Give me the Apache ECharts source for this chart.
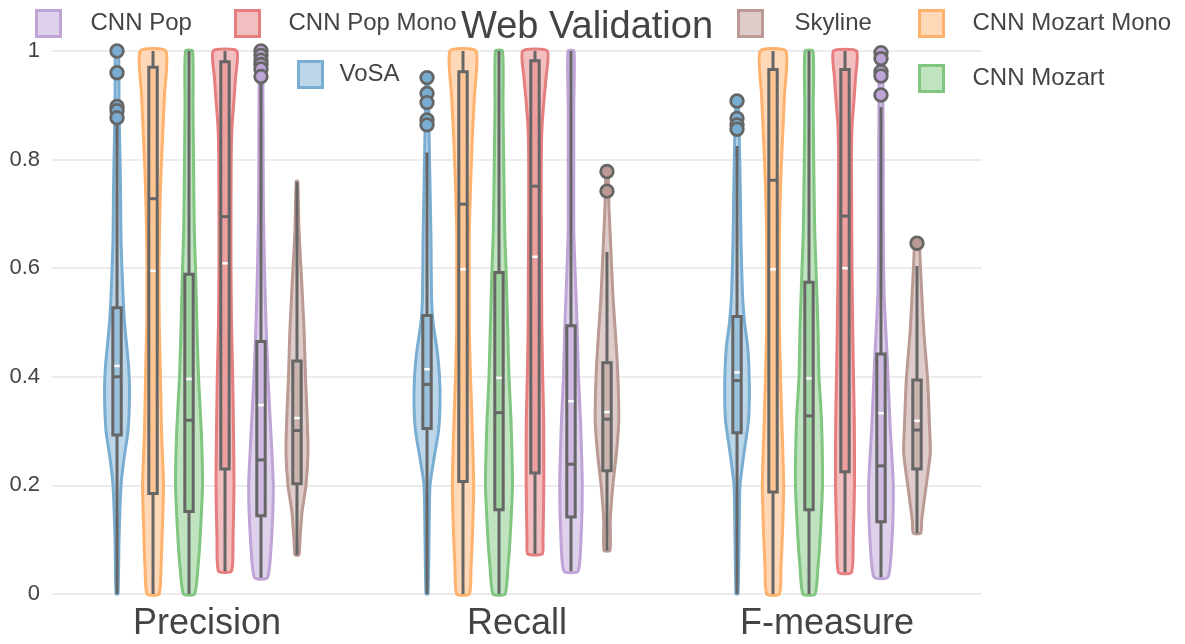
<!DOCTYPE html>
<html>
  <head>
    <meta charset="utf-8" />
    <title>Web Validation</title>
    <script src="https://cdn.jsdelivr.net/npm/echarts@6/dist/echarts.min.js"></script>
    <style>
      body { margin: 0; background: #fff; }
      #chart { width: 1185px; height: 644px; }
    </style>
  </head>
  <body>
    <div id="chart"></div>
    <script type="text/javascript">
      // ---- data ----
      var metrics = ["Precision", "Recall", "F-measure"];
      var methods = ["VoSA", "CNN Mozart Mono", "CNN Mozart", "CNN Pop Mono", "CNN Pop", "Skyline"];

      // box stats per metric: [lower whisker, q1, median, q3, upper whisker]
      var vosaBox = [[0, 0.293, 0.40, 0.527, 0.865], [0, 0.305, 0.386, 0.513, 0.813], [0, 0.297, 0.393, 0.511, 0.825]];
      var mozartMonoBox = [[0, 0.185, 0.728, 0.97, 1], [0, 0.207, 0.718, 0.962, 1], [0, 0.188, 0.762, 0.966, 1]];
      var mozartBox = [[0, 0.152, 0.32, 0.589, 1], [0, 0.155, 0.334, 0.592, 1], [0, 0.155, 0.328, 0.574, 1]];
      var popMonoBox = [[0.042, 0.23, 0.695, 0.98, 1], [0.074, 0.223, 0.751, 0.982, 1], [0.04, 0.225, 0.696, 0.966, 1]];
      var popBox = [[0.03, 0.144, 0.247, 0.465, 0.945], [0.042, 0.142, 0.239, 0.494, 1], [0.031, 0.133, 0.236, 0.442, 0.897]];
      var skylineBox = [[0.072, 0.203, 0.301, 0.429, 0.759], [0.08, 0.227, 0.322, 0.426, 0.63], [0.112, 0.23, 0.302, 0.394, 0.604]];

      // means per metric
      var vosaMean = [0.42, 0.414, 0.408];
      var mozartMonoMean = [0.595, 0.598, 0.598];
      var mozartMean = [0.396, 0.398, 0.397];
      var popMonoMean = [0.609, 0.621, 0.6];
      var popMean = [0.348, 0.355, 0.333];
      var skylineMean = [0.324, 0.335, 0.319];

      // outliers per metric
      var vosaOut = [[1.0, 0.96, 0.898, 0.89, 0.877], [0.951, 0.922, 0.905, 0.873, 0.864], [0.908, 0.876, 0.864, 0.856]];
      var mozartMonoOut = [[], [], []];
      var mozartOut = [[], [], []];
      var popMonoOut = [[], [], []];
      var popOut = [[1.0, 0.992, 0.983, 0.975, 0.967, 0.953], [], [0.997, 0.986, 0.962, 0.954, 0.919]];
      var skylineOut = [[], [0.778, 0.742], [0.646]];

      // violin outline: [value, relative density] (peak around 15)
      var vosaShape = [
        [[0, 2], [0.1, 3], [0.2, 5], [0.25, 8], [0.3, 12], [0.37, 13.5], [0.42, 12.5], [0.5, 8.5], [0.55, 7], [0.65, 5], [0.75, 4.5], [0.85, 3.5], [0.9, 3], [1, 2.5]],
        [[0, 2], [0.1, 3], [0.2, 4], [0.25, 8], [0.3, 12.5], [0.35, 14], [0.4, 13.5], [0.45, 11], [0.5, 7], [0.55, 5.5], [0.65, 5], [0.75, 4], [0.85, 3], [0.951, 2]],
        [[0, 2], [0.1, 3], [0.2, 4], [0.26, 8], [0.32, 12.5], [0.39, 13.3], [0.455, 11.7], [0.5, 8.5], [0.55, 6.5], [0.65, 5], [0.75, 4.2], [0.836, 3.3], [0.908, 2]]
      ];
      var mozartMonoShape = [
        [[0, 7], [0.05, 9], [0.1, 10], [0.2, 11.5], [0.3, 9.5], [0.4, 8.5], [0.5, 7.2], [0.6, 7], [0.67, 7.5], [0.75, 8.5], [0.84, 10.5], [0.92, 12.5], [1, 13.8]],
        [[0, 7.3], [0.05, 9], [0.1, 10.3], [0.2, 11.7], [0.32, 10], [0.4, 8.5], [0.49, 7.3], [0.6, 7.2], [0.67, 7.3], [0.75, 8.5], [0.84, 10.3], [0.92, 12.5], [1, 14]],
        [[0, 7.3], [0.05, 9], [0.1, 10.2], [0.2, 11.7], [0.32, 9.8], [0.4, 8.5], [0.5, 7.3], [0.6, 7.2], [0.67, 7.5], [0.75, 8.5], [0.84, 10.5], [0.92, 12.5], [1, 13.8]]
      ];
      var mozartShape = [
        [[0, 6.5], [0.05, 10], [0.1, 12], [0.2, 14.5], [0.3, 13.3], [0.4, 10.5], [0.49, 9], [0.6, 7.5], [0.67, 6.3], [0.8, 5.5], [0.9, 5], [1, 4.5]],
        [[0, 7], [0.05, 10], [0.1, 12], [0.2, 14.5], [0.32, 13], [0.4, 11], [0.49, 9.7], [0.6, 8], [0.67, 6.7], [0.8, 5.7], [0.9, 5], [1, 4.5]],
        [[0, 7], [0.05, 10], [0.1, 12], [0.2, 14.5], [0.32, 13.5], [0.4, 11], [0.49, 10], [0.6, 8], [0.67, 6.7], [0.8, 5.7], [0.9, 5.2], [1, 5]]
      ];
      var popMonoShape = [
        [[0.042, 7.5], [0.1, 9], [0.2, 10], [0.3, 9.5], [0.4, 8.7], [0.5, 7.5], [0.6, 7], [0.7, 7], [0.8, 7.2], [0.86, 8], [0.91, 10], [0.95, 11.5], [1, 12.8]],
        [[0.074, 8.3], [0.1, 9], [0.2, 9.8], [0.32, 9.7], [0.4, 8.7], [0.5, 7.8], [0.6, 7.6], [0.7, 7.3], [0.8, 7.3], [0.86, 8], [0.91, 10], [0.95, 12], [1, 13.3]],
        [[0.04, 7.5], [0.1, 9.2], [0.2, 10.5], [0.32, 10.3], [0.4, 9.5], [0.49, 8.7], [0.6, 8], [0.67, 7.8], [0.8, 7.5], [0.86, 8], [0.91, 10], [0.95, 11.5], [1, 12.5]]
      ];
      var popShape = [
        [[0.03, 7.5], [0.1, 11.5], [0.2, 13.3], [0.3, 10.8], [0.4, 8], [0.5, 6], [0.6, 4.5], [0.7, 3.5], [0.8, 3.2], [0.9, 3], [1, 2.5]],
        [[0.042, 8], [0.1, 11], [0.2, 12.3], [0.32, 10.5], [0.4, 8.5], [0.49, 7.2], [0.6, 5], [0.67, 3.8], [0.8, 3.8], [0.9, 3.8], [1, 4]],
        [[0.031, 8], [0.1, 12], [0.2, 13.3], [0.315, 10], [0.425, 7.5], [0.548, 4.2], [0.67, 3.3], [0.8, 3.3], [0.9, 3], [1, 2.5]]
      ];
      var skylineShape = [
        [[0.072, 3], [0.1, 4], [0.15, 6], [0.2, 10], [0.26, 12], [0.32, 11.3], [0.4, 9.5], [0.49, 8], [0.6, 5], [0.67, 3], [0.76, 1.5]],
        [[0.08, 4], [0.136, 4.3], [0.197, 6.7], [0.26, 10.5], [0.32, 12.8], [0.425, 11.3], [0.548, 7], [0.63, 5], [0.713, 3], [0.778, 2]],
        [[0.112, 4.7], [0.136, 5.7], [0.197, 10], [0.26, 14.3], [0.32, 13.3], [0.394, 11.7], [0.486, 7.7], [0.609, 4.3], [0.646, 3]]
      ];

      var yTicks = [0, 0.2, 0.4, 0.6, 0.8, 1];

      // ---- styling ----
      var baseColors = [[31, 119, 180], [255, 127, 14], [44, 160, 44], [214, 39, 40], [148, 103, 189], [140, 86, 75]];
      var boxes = [vosaBox, mozartMonoBox, mozartBox, popMonoBox, popBox, skylineBox];
      var means = [vosaMean, mozartMonoMean, mozartMean, popMonoMean, popMean, skylineMean];
      var outliers = [vosaOut, mozartMonoOut, mozartOut, popMonoOut, popOut, skylineOut];
      var shapes = [vosaShape, mozartMonoShape, mozartShape, popMonoShape, popShape, skylineShape];
      var FONT = "'Liberation Sans', Arial, sans-serif";
      var GRAY = "#666";

      function mix(rgb, a) {
        return "rgb(" + rgb.map(function (c) { return Math.round(c * a + 255 * (1 - a)); }).join(",") + ")";
      }

      function makeRender(k) {
        return function (params, api) {
          var c = api.value(0);
          var band = api.size([1, 0])[0];
          var x0 = api.coord([c, 0])[0] + (k - 2.5) * band * 0.1161;
          var s = band / 310;
          var yOf = function (v) { return api.coord([c, v])[1]; };
          var stroke = mix(baseColors[k], 0.6);
          var fill = mix(baseColors[k], 0.3);

          var shape = shapes[k][c];
          var right = shape.map(function (p) { return [x0 + Math.max(0.8, p[1] * s - 1), yOf(p[0])]; });
          var left = shape.slice().reverse().map(function (p) { return [x0 - Math.max(0.8, p[1] * s - 1), yOf(p[0])]; });
          var children = [{
            type: "polygon",
            shape: { points: right.concat(left), smooth: 0.2 },
            style: { fill: fill, stroke: stroke, lineWidth: 3 }
          }];

          var b = boxes[k][c];
          var bw = 4.2 * s;
          children.push({ type: "line", shape: { x1: x0, y1: yOf(b[0]), x2: x0, y2: yOf(b[1]) }, style: { stroke: GRAY, lineWidth: 3 } });
          children.push({ type: "line", shape: { x1: x0, y1: yOf(b[3]), x2: x0, y2: yOf(b[4]) }, style: { stroke: GRAY, lineWidth: 3 } });
          children.push({
            type: "rect",
            shape: { x: x0 - bw, y: yOf(b[3]), width: bw * 2, height: yOf(b[1]) - yOf(b[3]) },
            style: { fill: mix(baseColors[k], 0.45), stroke: GRAY, lineWidth: 3 }
          });
          children.push({ type: "line", shape: { x1: x0 - bw, y1: yOf(b[2]), x2: x0 + bw, y2: yOf(b[2]) }, style: { stroke: GRAY, lineWidth: 3 } });
          var m = yOf(means[k][c]);
          children.push({ type: "line", shape: { x1: x0 - bw + 1.5, y1: m, x2: x0 + bw - 1.5, y2: m }, style: { stroke: "#fff", lineWidth: 2.5 } });

          outliers[k][c].forEach(function (v) {
            children.push({
              type: "circle",
              shape: { cx: x0, cy: yOf(v), r: 6.3 },
              style: { fill: stroke, stroke: GRAY, lineWidth: 2.8 }
            });
          });
          return { type: "group", children: children };
        };
      }

      var series = methods.map(function (name, k) {
        return {
          name: name,
          type: "custom",
          renderItem: makeRender(k),
          itemStyle: { color: mix(baseColors[k], 0.3), borderColor: mix(baseColors[k], 0.6) },
          data: metrics.map(function (m, i) { return [i, boxes[k][i][2]]; }),
          encode: { x: 0, y: 1 },
          silent: true
        };
      });

      // legend placement as in the picture
      var legendPos = [
        { name: "CNN Pop", left: 35, top: 9, gap: 25 },
        { name: "CNN Pop Mono", left: 234, top: 9, gap: 24 },
        { name: "Skyline", left: 737, top: 9, gap: 27 },
        { name: "CNN Mozart Mono", left: 918, top: 9, gap: 24 },
        { name: "VoSA", left: 297, top: 60, gap: 12 },
        { name: "CNN Mozart", left: 918, top: 64, gap: 24 }
      ];
      var legends = legendPos.map(function (p) {
        var k = methods.indexOf(p.name);
        return {
          data: [{
            name: p.name,
            icon: "rect",
            itemStyle: { color: mix(baseColors[k], 0.3), borderColor: mix(baseColors[k], 0.6), borderWidth: 3 }
          }],
          left: p.left,
          top: p.top,
          padding: 0,
          itemWidth: 24,
          itemHeight: 26,
          selectedMode: false,
          textStyle: { fontSize: 24, color: "#444", fontFamily: FONT, padding: [0, 0, 0, p.gap] }
        };
      });

      var myChart = echarts.init(document.getElementById("chart"));
      myChart.setOption({
        backgroundColor: "#fff",
        animation: false,
        title: {
          text: "Web Validation",
          left: 456,
          top: 4,
          textStyle: { fontSize: 38, fontWeight: "normal", color: "#444", fontFamily: FONT }
        },
        legend: legends,
        grid: { left: 52, right: 203, top: 51, bottom: 50 },
        xAxis: {
          type: "category",
          data: metrics,
          boundaryGap: true,
          axisLine: { show: false },
          axisTick: { show: false },
          axisLabel: { fontSize: 36, color: "#444", fontFamily: FONT, margin: 12 }
        },
        yAxis: {
          type: "value",
          min: yTicks[0],
          max: yTicks[yTicks.length - 1],
          interval: 0.2,
          axisLine: { show: false },
          axisTick: { show: false },
          axisLabel: { fontSize: 22, color: "#444", fontFamily: FONT, margin: 12 },
          splitLine: { lineStyle: { color: "#ececec", width: 2 } }
        },
        series: series
      });
    </script>
  </body>
</html>
